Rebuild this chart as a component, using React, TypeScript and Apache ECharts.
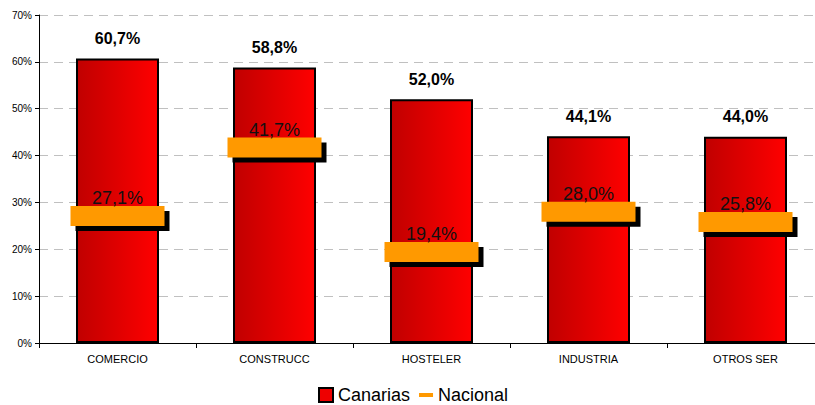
import React, { useEffect, useRef } from "react";
import * as echarts from "echarts";

const categories = ["COMERCIO", "CONSTRUCC", "HOSTELER", "INDUSTRIA", "OTROS SER"];
const canarias = [60.7, 58.8, 52.0, 44.1, 44.0];
const nacional = [27.1, 41.7, 19.4, 28.0, 25.8];
const yTicks = [0, 10, 20, 30, 40, 50, 60, 70];

const FONT = "Arial, 'Liberation Sans', sans-serif";
const fmt = (v: number) => v.toFixed(1).replace(".", ",") + "%";

export default function App() {
  const ref = useRef<HTMLDivElement>(null);
  useEffect(() => {
    document.body.style.margin = "0";
    const chart = echarts.init(ref.current!, null, { renderer: "svg" });
    chart.setOption({
      animation: false,
      backgroundColor: "#ffffff",
      grid: { left: 39, top: 15, bottom: 62, width: 785, outerBoundsMode: "none", containLabel: false },
      legend: {
        bottom: 1,
        left: 318,
        padding: 0,
        itemWidth: 14,
        itemHeight: 14,
        itemGap: 9,
        textStyle: { fontFamily: FONT, fontSize: 18, lineHeight: 14, color: "#000" },
        data: [
          { name: "Canarias", icon: "rect", itemStyle: { color: "#ee0000", borderColor: "#000", borderWidth: 2 } },
          { name: "Nacional", icon: "path://M0,0 M0,5 L14,5 L14,9 L0,9 Z M14,14", itemStyle: { color: "#ff9900" } },
        ],
      },
      xAxis: {
        type: "category",
        data: categories,
        axisLine: { lineStyle: { color: "#000", width: 1 } },
        axisTick: { show: true, length: 5, lineStyle: { color: "#000" } },
        axisLabel: { fontFamily: FONT, fontSize: 11, color: "#000", margin: 10 },
      },
      yAxis: {
        type: "value",
        min: 0,
        max: 70,
        interval: 10,
        axisLine: { show: true, lineStyle: { color: "#000", width: 1 } },
        axisTick: { show: true, length: 4, lineStyle: { color: "#000" } },
        axisLabel: {
          fontFamily: FONT,
          fontSize: 10,
          color: "#000",
          margin: 7,
          formatter: (v: number) => (yTicks.includes(v) ? v + "%" : ""),
        },
        splitLine: { show: true, lineStyle: { color: "#c0c0c0", type: [9, 6], width: 1 } },
      },
      series: [
        {
          name: "Canarias",
          type: "bar",
          data: canarias,
          barWidth: 83,
          itemStyle: {
            color: new echarts.graphic.LinearGradient(0, 0, 1, 0, [
              { offset: 0, color: "#c00000" },
              { offset: 1, color: "#ff0000" },
            ]),
            borderColor: "#000",
            borderWidth: 2,
          },
          label: {
            show: true,
            position: "top",
            distance: 12,
            fontFamily: FONT,
            fontSize: 16,
            fontWeight: "bold",
            color: "#000",
            formatter: (p: any) => fmt(p.value),
          },
          z: 2,
        },
        {
          name: "Nacional",
          type: "custom",
          data: nacional.map((v, i) => [i, v]),
          z: 5,
          itemStyle: { color: "#ff9900" },
          renderItem: (params: any, api: any) => {
            const c = api.coord([api.value(0), api.value(1)]);
            const w = 94, h = 20, off = 5;
            const x0 = c[0] - w / 2, y0 = c[1] - h / 2;
            return {
              type: "group",
              children: [
                { type: "rect", shape: { x: x0 + off, y: y0 + off, width: w, height: h }, style: { fill: "#000" } },
                { type: "rect", shape: { x: x0, y: y0, width: w, height: h }, style: { fill: "#ff9900" } },
                {
                  type: "text",
                  style: {
                    text: fmt(api.value(1)),
                    x: c[0],
                    y: y0 + 1,
                    align: "center",
                    verticalAlign: "bottom",
                    font: `18px ${FONT}`,
                    fill: "#111",
                  },
                },
              ],
            };
          },
        },
      ],
    });
    return () => chart.dispose();
  }, []);
  return <div ref={ref} style={{ width: 815, height: 405 }} />;
}
